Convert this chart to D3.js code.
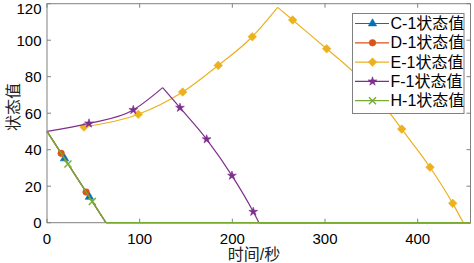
<!DOCTYPE html>
<html><head><meta charset="utf-8">
<script src="https://cdn.jsdelivr.net/npm/d3@7"></script>
<style>body{margin:0;background:#fff}svg{display:block}</style>
</head><body>
<svg id="chart" width="474" height="263"></svg>
<script>
const seriesNames = ["C-1状态值", "D-1状态值", "E-1状态值", "F-1状态值", "H-1状态值"];
const xTicks = [0, 100, 200, 300, 400];
const yTicks = [0, 20, 40, 60, 80, 100, 120];
const xLabel = "时间/秒";
const yLabel = "状态值";

const cTime = [0, 63.6, 457];
const cValue = [50, 0, 0];
const cMarkTime = [18.9, 45.7];
const cMarkValue = [35.2, 14.1];

const dTime = [0, 63.6, 457];
const dValue = [50, 0, 0];
const dMarkTime = [15.3, 42.2];
const dMarkValue = [38.0, 16.8];

const eTime = [39.9, 98.5, 146.4, 184.8, 221.5, 248.9, 265.1, 301.8, 316.1, 330.4, 370.0, 382.8, 413.3, 437.8, 449.2, 457];
const eValue = [52.4, 59.4, 71.6, 86.2, 101.9, 118.0, 111.1, 95.3, 89.2, 82.7, 60.1, 51.3, 30.4, 10.6, 0, 0];
const eMarkTime = [39.9, 98.5, 146.4, 184.8, 221.5, 265.1, 301.8, 382.8, 413.3, 437.8];
const eMarkValue = [52.4, 59.4, 71.6, 86.2, 101.9, 111.1, 95.3, 51.3, 30.4, 10.6];

const fTime = [0, 45.3, 93.1, 124.8, 143.5, 172.3, 199.6, 222.6, 228.7, 457];
const fValue = [50, 54.4, 61.8, 74.0, 63.0, 45.7, 25.8, 6.0, 0, 0];
const fMarkTime = [45.3, 93.1, 143.5, 172.3, 199.6, 222.6];
const fMarkValue = [54.4, 61.8, 63.0, 45.7, 25.8, 6.0];

const hTime = [0, 63.6, 457];
const hValue = [50, 0, 0];
const hMarkTime = [22.6, 48.9];
const hMarkValue = [32.2, 11.6];

const colors = ["#0072BD", "#D95319", "#EDB120", "#7E2F8E", "#77AC30"];

const series = [
  {t: cTime, v: cValue, mt: cMarkTime, mv: cMarkValue},
  {t: dTime, v: dValue, mt: dMarkTime, mv: dMarkValue},
  {t: eTime, v: eValue, mt: eMarkTime, mv: eMarkValue},
  {t: fTime, v: fValue, mt: fMarkTime, mv: fMarkValue},
  {t: hTime, v: hValue, mt: hMarkTime, mv: hMarkValue}
];

const svg = d3.select("#chart");
const L = 47, R = 470.5, T = 3.7, B = 222.7;
const x = d3.scaleLinear().domain([0, 457]).range([L, R]);
const y = d3.scaleLinear().domain([0, 120]).range([B, T]);
const font = "'Liberation Sans','Noto Sans CJK SC',sans-serif";
const axisColor = "#808080";

svg.append("rect").attr("x", L).attr("y", T).attr("width", R - L).attr("height", B - T)
  .attr("fill", "#fff").attr("stroke", axisColor).attr("stroke-width", 1);

const tl = 4;
const tg = svg.append("g").attr("stroke", axisColor).attr("stroke-width", 1);
xTicks.forEach(v => {
  tg.append("line").attr("x1", x(v)).attr("x2", x(v)).attr("y1", B).attr("y2", B - tl);
  tg.append("line").attr("x1", x(v)).attr("x2", x(v)).attr("y1", T).attr("y2", T + tl);
});
yTicks.forEach(v => {
  tg.append("line").attr("x1", L).attr("x2", L + tl).attr("y1", y(v)).attr("y2", y(v));
  tg.append("line").attr("x1", R).attr("x2", R - tl).attr("y1", y(v)).attr("y2", y(v));
});

svg.append("g").selectAll("text").data(xTicks).join("text")
  .attr("x", d => x(d)).attr("y", 244).attr("text-anchor", "middle")
  .attr("font-family", font).attr("font-size", 15).attr("fill", "#000").text(d => d);
svg.append("g").selectAll("text").data(yTicks).join("text")
  .attr("x", 41.5).attr("y", d => Math.max(y(d) + 5.3, 14)).attr("text-anchor", "end")
  .attr("font-family", font).attr("font-size", 15).attr("fill", "#000").text(d => d);

svg.append("text").attr("x", 254).attr("y", 260).attr("text-anchor", "middle")
  .attr("font-family", font).attr("font-size", 16).attr("fill", "#222").text(xLabel);
svg.append("text").attr("transform", "translate(19,107) rotate(-90)").attr("text-anchor", "middle")
  .attr("font-family", font).attr("font-size", 16).attr("fill", "#222").text(yLabel);

function pieces(ts, vs) {
  const out = [];
  let cur = [[ts[0], vs[0]]];
  let prev = null;
  for (let i = 1; i < ts.length; i++) {
    const s = Math.sign(vs[i] - vs[i - 1]);
    if (prev !== null && s !== prev) { out.push(cur); cur = [[ts[i - 1], vs[i - 1]]]; }
    cur.push([ts[i], vs[i]]);
    prev = s;
  }
  out.push(cur);
  return out;
}
const line = d3.line().x(d => x(d[0])).y(d => y(d[1])).curve(d3.curveMonotoneX);

const diamondPath = "M0,-4.3L4.3,0L0,4.3L-4.3,0Z";
function drawMarker(g, sx, sy, i) {
  let p;
  if (i === 0) p = d3.symbol().type(d3.symbolTriangle).size(30)();
  else if (i === 1) p = d3.symbol().type(d3.symbolCircle).size(34)();
  else if (i === 2) p = diamondPath;
  else if (i === 3) p = d3.symbol().type(d3.symbolStar).size(24)();
  else p = d3.symbol().type(d3.symbolTimes).size(34)();
  const m = g.append("path").attr("d", p).attr("transform", `translate(${sx},${sy})`);
  if (i === 4) m.attr("fill", "none").attr("stroke", colors[i]).attr("stroke-width", 1.4);
  else m.attr("fill", colors[i]).attr("stroke", colors[i]).attr("stroke-width", 0.6);
}

const plot = svg.append("g");
series.forEach((s, i) => {
  pieces(s.t, s.v).forEach(pc => {
    plot.append("path").attr("d", line(pc)).attr("fill", "none")
      .attr("stroke", colors[i]).attr("stroke-width", 1.2);
  });
  s.mt.forEach((t, k) => drawMarker(plot, x(t), y(s.mv[k]), i));
});

const lg = svg.append("g");
lg.append("rect").attr("x", 352.5).attr("y", 13.5).attr("width", 111.5).attr("height", 100)
  .attr("fill", "#fff").attr("stroke", axisColor).attr("stroke-width", 1);
seriesNames.forEach((name, i) => {
  const ly = 23.5 + i * 19.3;
  lg.append("line").attr("x1", 355).attr("x2", 389).attr("y1", ly).attr("y2", ly)
    .attr("stroke", colors[i]).attr("stroke-width", 1.2);
  drawMarker(lg, 372.5, ly, i);
  lg.append("text").attr("x", 390.5).attr("y", ly + 5.5).attr("font-family", font)
    .attr("font-size", 16).attr("fill", "#000").text(name);
});
</script>
</body></html>
